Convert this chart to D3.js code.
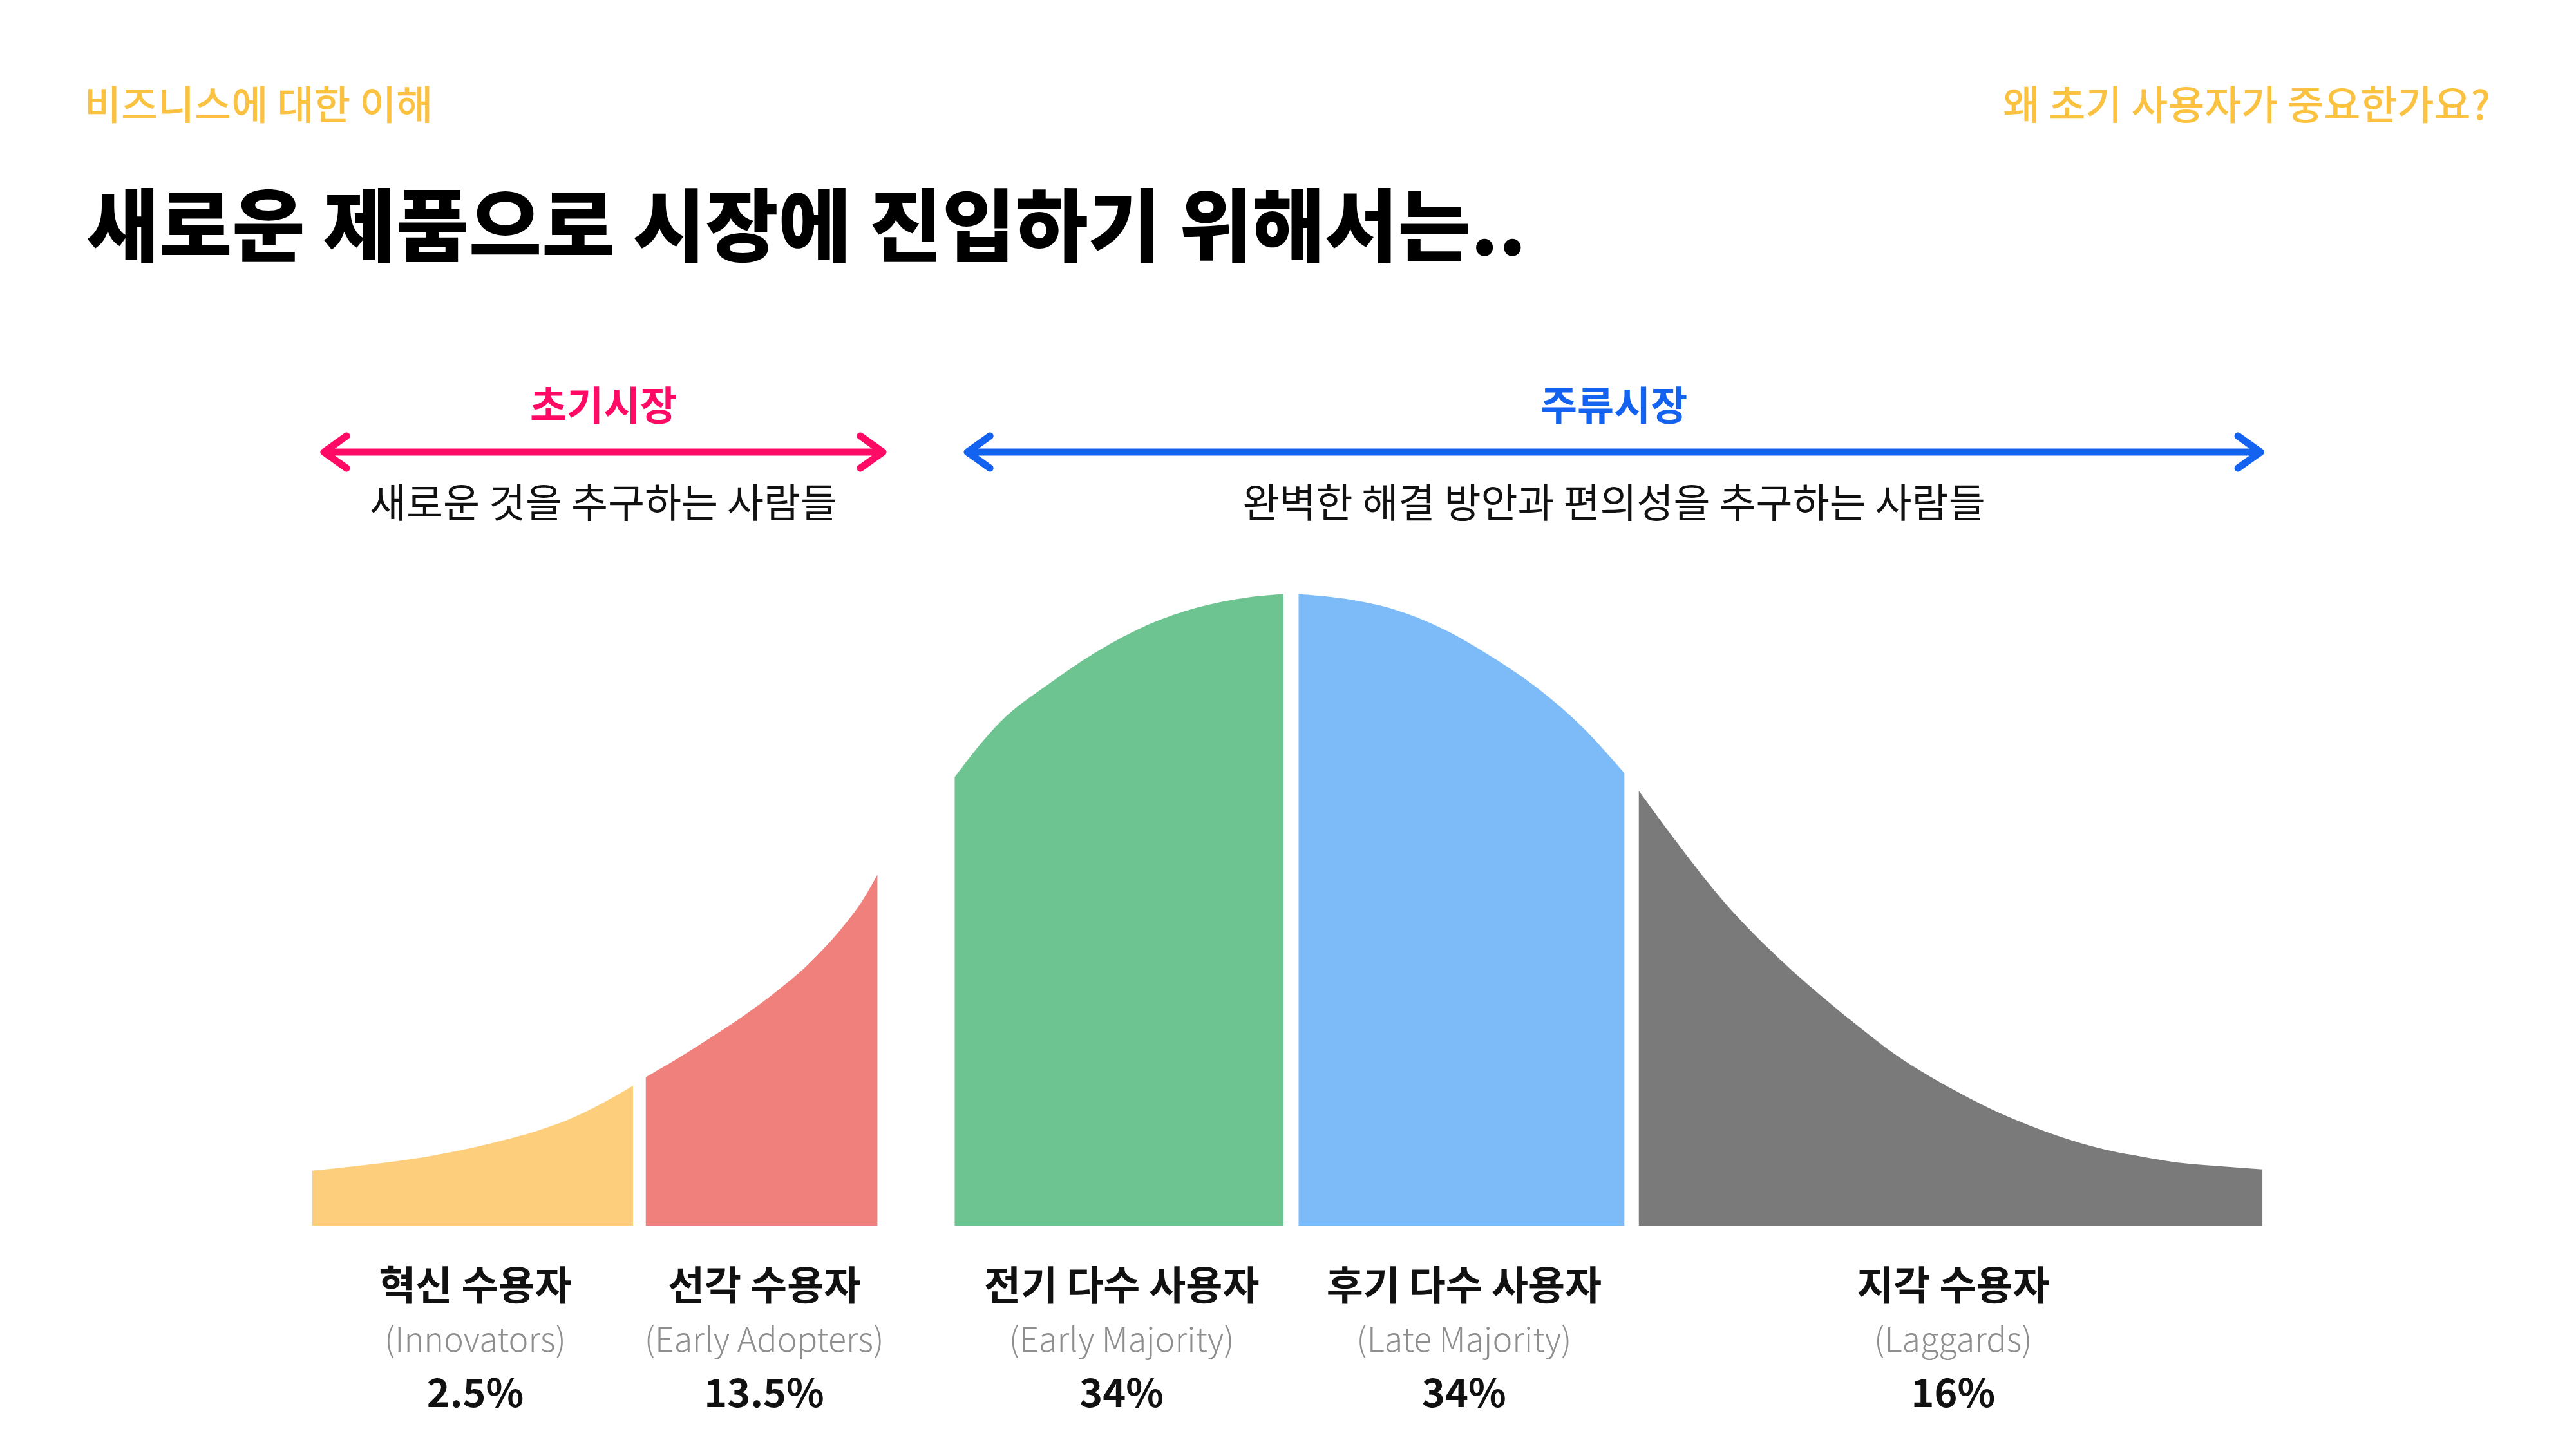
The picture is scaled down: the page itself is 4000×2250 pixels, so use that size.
<!DOCTYPE html>
<html><head><meta charset="utf-8">
<script src="https://cdn.jsdelivr.net/npm/d3@7"></script>
<style>body{margin:0;background:#fff} svg{display:block}</style>
</head><body>
<svg id="c" width="4000" height="2250"></svg>
<script>
const headerLeft = "비즈니스에 대한 이해";
const headerRight = "왜 초기 사용자가 중요한가요?";
const title = "새로운 제품으로 시장에 진입하기 위해서는..";

// bell curve samples: position (σ from centre), relative height (peak = 100)
const curveX = [-2.912,-2.743,-2.578,-2.446,-2.347,-2.248,-2.149,-2.050,-1.958,
  -1.920,-1.817,-1.722,-1.626,-1.530,-1.435,-1.339,-1.275,-1.231,
  -1.001,-0.866,-0.719,-0.573,-0.426,-0.280,-0.133,-0.023,0,
  0.022,0.160,0.307,0.453,0.600,0.746,0.864,0.991,
  1.034,1.100,1.165,1.229,1.293,1.357,1.421,1.485,1.580,1.700,1.791,1.900,2.002,2.100,2.213,2.320,2.423,2.530,2.634,2.760,2.889];
const curveY = [8.70,9.65,10.84,12.20,13.46,14.92,16.79,19.34,22.15,
  23.50,26.71,29.92,33.32,37.11,41.45,46.93,51.47,55.56,
  71.0,79.7,85.8,91.0,95.1,97.8,99.4,99.95,100,
  99.95,99.2,97.5,94.4,89.9,84.5,79.0,71.6,
  68.8,64.0,59.4,55.0,50.9,47.2,43.8,40.6,36.2,31.0,27.3,23.6,20.6,18.0,15.5,13.5,12.0,10.9,10.0,9.4,8.9];

// adopter segments
const segNames = ["혁신 수용자","선각 수용자","전기 다수 사용자","후기 다수 사용자","지각 수용자"];
const segEnglish = ["(Innovators)","(Early Adopters)","(Early Majority)","(Late Majority)","(Laggards)"];
const segShares = ["2.5%","13.5%","34%","34%","16%"];
const segStart = [-2.912,-1.920,-1.001,0.022,1.034];
const segEnd = [-1.958,-1.231,-0.023,0.991,2.889];
const segColors = ["#FDCE7B","#EF807C","#6DC490","#7CBBF8","#7A7A7A"];

// market groups
const marketNames = ["초기시장","주류시장"];
const marketDesc = ["새로운 것을 추구하는 사람들","완벽한 해결 방안과 편의성을 추구하는 사람들"];
const marketStart = [-2.883,-0.969];
const marketEnd = [-1.209,2.889];
const marketColors = ["#FF0B66","#1463F0"];

const FONT = "'Noto Sans CJK KR','Noto Sans',sans-serif";
const svg = d3.select("#c");
svg.append("rect").attr("width",4000).attr("height",2250).attr("fill","#fff");

const x = d3.scaleLinear().domain([-1,1]).range([1483,2527]);
const y = d3.scaleLinear().domain([0,100]).range([1903,922]);

const pts = curveX.map((v,i)=>[v,curveY[i]]);
const area = d3.area().x(d=>x(d[0])).y0(y(0)).y1(d=>y(d[1])).curve(d3.curveMonotoneX);

segNames.forEach((n,i)=>{
  const sub = pts.filter(p=>p[0]>=segStart[i]-1e-9 && p[0]<=segEnd[i]+1e-9);
  svg.append("path").attr("d",area(sub)).attr("fill",segColors[i]);
});

// headers
svg.append("text").attr("x",131).attr("y",186).attr("font-family",FONT).attr("font-size",62)
  .attr("font-weight",500).attr("fill","#FBC241").text(headerLeft);
svg.append("text").attr("x",3867).attr("y",186).attr("text-anchor","end").attr("font-family",FONT).attr("font-size",62)
  .attr("font-weight",500).attr("fill","#FBC241").text(headerRight);
svg.append("text").attr("x",134).attr("y",396).attr("font-family",FONT).attr("font-size",123)
  .attr("font-weight",800).attr("fill","#000").text(title);

// market arrows
const arrowY = 702, head = 38, headH = 25;
marketNames.forEach((n,i)=>{
  const x0 = x(marketStart[i]), x1 = x(marketEnd[i]), c = marketColors[i];
  const g = svg.append("g").attr("stroke",c).attr("stroke-width",11).attr("fill","none")
    .attr("stroke-linejoin","round").attr("stroke-linecap","round");
  g.append("line").attr("x1",x0+3).attr("x2",x1-3).attr("y1",arrowY).attr("y2",arrowY);
  g.append("path").attr("d",`M${x0+head},${arrowY-headH}L${x0+3},${arrowY}L${x0+head},${arrowY+headH}`);
  g.append("path").attr("d",`M${x1-head},${arrowY-headH}L${x1-3},${arrowY}L${x1-head},${arrowY+headH}`);
  const cx = (x0+x1)/2;
  svg.append("text").attr("x",cx).attr("y",653).attr("text-anchor","middle").attr("font-family",FONT)
    .attr("font-size",62).attr("font-weight",700).attr("fill",c).text(n);
  svg.append("text").attr("x",cx).attr("y",804).attr("text-anchor","middle").attr("font-family",FONT)
    .attr("font-size",62).attr("font-weight",400).attr("fill","#111").text(marketDesc[i]);
});

// segment labels
segNames.forEach((n,i)=>{
  const cx = (x(segStart[i])+x(segEnd[i]))/2 + 4;
  svg.append("text").attr("x",cx).attr("y",2019).attr("text-anchor","middle").attr("font-family",FONT)
    .attr("font-size",62).attr("font-weight",700).attr("fill","#111").text(n);
  svg.append("text").attr("x",cx).attr("y",2099).attr("text-anchor","middle").attr("font-family",FONT)
    .attr("font-size",52).attr("font-weight",300).attr("fill","#8E8E8E").text(segEnglish[i]);
  svg.append("text").attr("x",cx).attr("y",2185).attr("text-anchor","middle").attr("font-family",FONT)
    .attr("font-size",61).attr("font-weight",700).attr("fill","#111").text(segShares[i]);
});
</script>
</body></html>
